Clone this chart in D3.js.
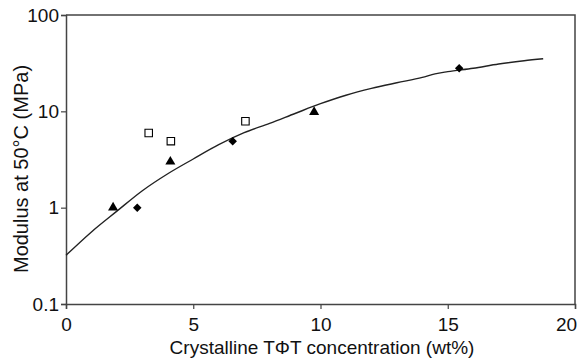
<!DOCTYPE html>
<html lang="en">
<head>
  <meta charset="UTF-8">
  <title>Modulus vs crystalline TΦT</title>
  <script src="https://d3js.org/d3.v7.min.js"></script>
  <style>
    body { margin: 0; background: #fff; }
    text { font-family: "Liberation Sans", Arial, sans-serif; fill: #111; }
  </style>
</head>
<body>
  <svg width="580" height="363"></svg>
  <script>
    // data
    const fitX = [0, 1, 2, 3, 4, 5, 6, 7, 8, 9, 10, 11, 12, 13, 14, 14.5, 15, 16, 17, 18, 18.75];
    const fitY = [0.32, 0.56, 0.92, 1.5, 2.25, 3.2, 4.5, 6.0, 7.5, 9.5, 12.0, 14.7, 17.3, 19.8, 22.5, 24.5, 25.8, 28, 31, 33.5, 35.1];

    const triX = [1.85, 4.1, 9.75];
    const triY = [1.0, 3.0, 9.8];
    const diaX = [2.8, 6.55, 15.45];
    const diaY = [1.0, 4.9, 28];
    const sqX = [3.25, 4.12, 7.05];
    const sqY = [5.95, 4.9, 7.9];

    const xTicks = [0, 5, 10, 15, 20];
    const yTicks = [0.1, 1, 10, 100];

    const margin = { left: 66, right: 5, top: 15, bottom: 59 };
    const W = 580, H = 363;

    const svg = d3.select("svg");
    const x = d3.scaleLinear().domain([0, 20]).range([margin.left, W - margin.right]);
    const y = d3.scaleLog().domain([0.1, 100]).range([H - margin.bottom, margin.top]);

    const frameColor = "#444";

    // top and right border
    svg.append("path")
      .attr("d", `M${x(0)},${y(100)}H${x(20)}V${y(0.1)}`)
      .attr("fill", "none")
      .attr("stroke", frameColor)
      .attr("stroke-width", 1.5);

    // axes
    const xAxis = svg.append("g")
      .attr("transform", `translate(0,${y(0.1)})`)
      .call(d3.axisBottom(x).tickValues(xTicks).tickFormat(d3.format("d")).tickSizeOuter(0).tickSize(5));
    const yAxis = svg.append("g")
      .attr("transform", `translate(${x(0)},0)`)
      .call(d3.axisLeft(y).tickValues(yTicks).tickFormat(d => String(d)).tickSizeOuter(0).tickSize(5));

    [xAxis, yAxis].forEach(g => {
      g.select(".domain").attr("stroke", frameColor).attr("stroke-width", 1.5);
      g.selectAll(".tick line").attr("stroke", frameColor).attr("stroke-width", 1.2);
      g.selectAll(".tick text")
        .attr("font-family", "Liberation Sans, Arial, sans-serif")
        .attr("font-size", 19)
        .attr("fill", "#111");
    });
    xAxis.selectAll(".tick text").attr("dy", "0").attr("y", 27);
    // last label sits against the right edge
    xAxis.selectAll(".tick text").filter(d => d === 20).attr("x", -9);
    yAxis.selectAll(".tick text").attr("x", -7);

    // fitted curve
    const fit = fitX.map((v, i) => [v, fitY[i]]);
    svg.append("path")
      .datum(fit)
      .attr("fill", "none")
      .attr("stroke", "#222")
      .attr("stroke-width", 1.4)
      .attr("d", d3.line().x(d => x(d[0])).y(d => y(d[1])).curve(d3.curveMonotoneX));

    // markers
    const zip = (a, b) => a.map((v, i) => [v, b[i]]);
    svg.append("g").selectAll("path")
      .data(zip(triX, triY)).enter().append("path")
      .attr("transform", d => `translate(${x(d[0])},${y(d[1])})`)
      .attr("d", d3.symbol().type(d3.symbolTriangle).size(44))
      .attr("fill", "#000");

    svg.append("g").selectAll("path")
      .data(zip(diaX, diaY)).enter().append("path")
      .attr("transform", d => `translate(${x(d[0])},${y(d[1])})`)
      .attr("d", d3.symbol().type(d3.symbolDiamond2).size(46))
      .attr("fill", "#000");

    svg.append("g").selectAll("path")
      .data(zip(sqX, sqY)).enter().append("path")
      .attr("transform", d => `translate(${x(d[0])},${y(d[1])})`)
      .attr("d", d3.symbol().type(d3.symbolSquare).size(56))
      .attr("fill", "#fff")
      .attr("stroke", "#000")
      .attr("stroke-width", 1.1);

    // axis titles
    svg.append("text")
      .attr("x", 322)
      .attr("y", 354)
      .attr("text-anchor", "middle")
      .attr("font-size", 19)
      .text("Crystalline TΦT concentration (wt%)");

    svg.append("text")
      .attr("transform", `translate(28,169) rotate(-90)`)
      .attr("text-anchor", "middle")
      .attr("font-size", 20)
      .text("Modulus at 50°C (MPa)");
  </script>
</body>
</html>
